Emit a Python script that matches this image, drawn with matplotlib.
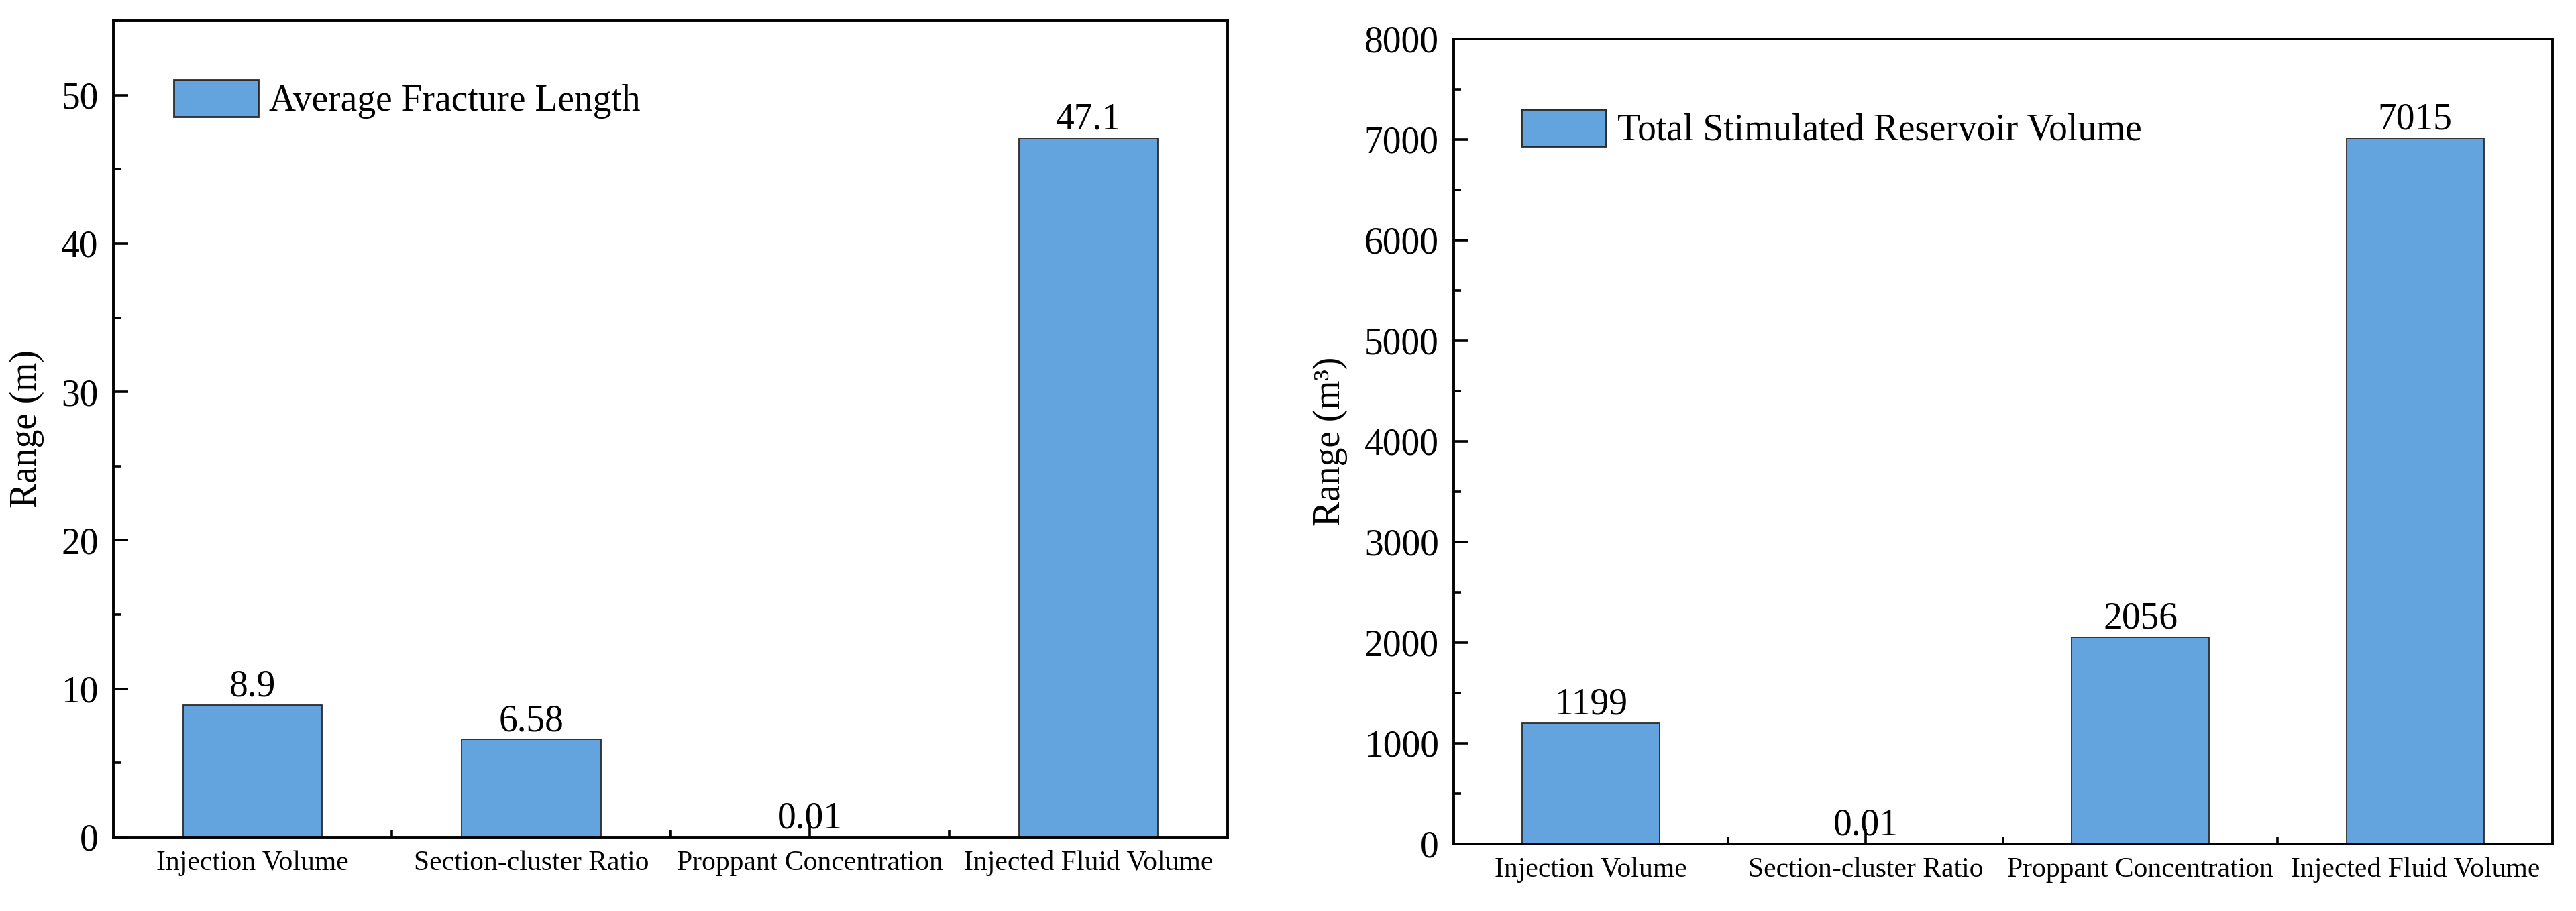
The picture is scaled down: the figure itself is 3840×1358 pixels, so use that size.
import matplotlib
matplotlib.use("Agg")
import matplotlib.pyplot as plt
from matplotlib.ticker import MultipleLocator, FixedLocator
from matplotlib.patches import Patch

plt.rcParams['font.family'] = ['Liberation Serif', 'DejaVu Serif']

categories = ["Injection Volume", "Section-cluster Ratio", "Proppant Concentration", "Injected Fluid Volume"]
fracture_length = [8.9, 6.58, 0.01, 47.1]
fracture_labels = ["8.9", "6.58", "0.01", "47.1"]
srv_volume = [1199, 0.01, 2056, 7015]
srv_labels = ["1199", "0.01", "2056", "7015"]

bar_color = "#63A4DF"
edge_color = "#2b2b2b"

fig = plt.figure(figsize=(38.41, 13.58), dpi=100)
ax1 = fig.add_axes([169/3841, 110/1358, 1661/3841, 1217/1358])
ax2 = fig.add_axes([2167/3841, 100/1358, 1638/3841, 1200/1358])

def style(ax, values, labels, ylim, major, minor, ylabel, legend_label, leg_anchor):
    x = list(range(1, len(categories) + 1))
    bars = ax.bar(x, values, width=0.5, color=bar_color, edgecolor=edge_color, linewidth=1.3,
                  label=legend_label, zorder=2)
    ax.bar_label(bars, labels=labels, padding=1, fontsize=40)
    ax.set_xlim(0.5, 4.5)
    ax.set_ylim(*ylim)
    ax.set_xticks(x)
    ax.set_xticklabels(categories, fontsize=30)
    ax.xaxis.set_minor_locator(FixedLocator([1.5, 2.5, 3.5]))
    ax.yaxis.set_major_locator(MultipleLocator(major))
    ax.yaxis.set_minor_locator(MultipleLocator(minor))
    ax.tick_params(axis='both', which='major', direction='in', length=16, width=2.6,
                   top=False, right=False)
    ax.tick_params(axis='both', which='minor', direction='in', length=8, width=2.6,
                   top=False, right=False)
    ax.tick_params(axis='y', which='major', labelsize=40, pad=16)
    ax.tick_params(axis='x', which='major', pad=14)
    for s in ax.spines.values():
        s.set_linewidth(2.8)
        s.set_color('black')
    ax.set_ylabel(ylabel, fontsize=40, labelpad=18)
    handle = Patch(facecolor=bar_color, edgecolor=edge_color, linewidth=2.0)
    ax.legend([handle], [legend_label], loc='center left', bbox_to_anchor=leg_anchor,
              frameon=False, fontsize=40, handlelength=2.27, handleheight=1.12,
              handletextpad=0.3, borderpad=0, borderaxespad=0)

style(ax1, fracture_length, fracture_labels, (0, 55), 10, 5, "Range (m)",
      "Average Fracture Length", (0.054, 0.9035))
style(ax2, srv_volume, srv_labels, (0, 8000), 1000, 500, "Range (m³)",
      "Total Stimulated Reservoir Volume", (0.0617, 0.888))

fig.savefig("out.png", dpi=100)
